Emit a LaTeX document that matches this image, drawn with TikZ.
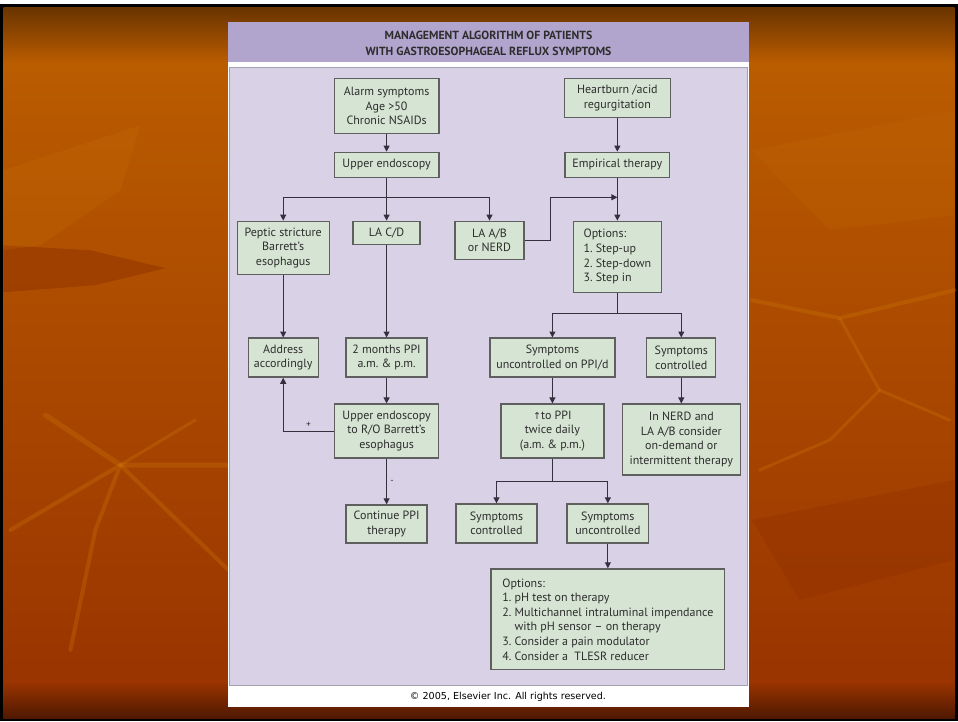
\documentclass[tikz,border=0pt]{standalone}
\usepackage{fontspec}
\setmainfont{PT Sans}
\newfontfamily\copyfont{DejaVu Sans}
\newfontfamily\symfont{DejaVu Sans}
\usepackage{tikz}
\usetikzlibrary{arrows.meta}
\usetikzlibrary{positioning}

\definecolor{slidetop}{RGB}{105,52,0}
\definecolor{slidemid}{RGB}{186,92,0}
\definecolor{slidelow}{RGB}{154,52,0}
\definecolor{slidebot}{RGB}{78,24,0}
\definecolor{crackhi}{RGB}{205,120,10}
\definecolor{crackdk}{RGB}{140,45,0}
\definecolor{hdr}{RGB}{177,165,205}
\definecolor{lav}{RGB}{217,210,230}
\definecolor{lavline}{RGB}{165,160,175}
\definecolor{boxfill}{RGB}{214,229,211}
\definecolor{boxline}{RGB}{95,95,95}
\definecolor{wire}{RGB}{52,48,62}
\definecolor{ink}{RGB}{45,45,45}

\tikzset{box/.style = {draw=boxline, line width=1.3pt, fill=boxfill, text=ink, inner sep=0pt,
    align=center, font=\fontsize{12}{14.6}\selectfont}}
\tikzset{optbox/.style = {box, align=left}}
\tikzset{arr/.style = {-{Triangle[length=6pt,width=6pt]}}}
\tikzset{crack/.style = {crackhi, opacity=0.3, line cap=round, line join=round}}

\begin{document}
\begin{tikzpicture}[x=1pt, y=-1pt, every path/.style={draw=wire, line width=1pt}]
    % slide background
    \fill[white] (0,0) rectangle (958,721);
    \fill[black] (0,4) rectangle (958,721);
    \shade[top color=slidetop, bottom color=slidemid, draw=none] (3,7) rectangle (955,62);
    \shade[top color=slidemid, bottom color=slidelow, draw=none] (3,62) rectangle (955,682);
    \shade[top color=slidelow, bottom color=slidebot, draw=none] (3,682) rectangle (955,719);

    % cracks
    \fill[crackdk, opacity=0.45, draw=none] (3,245) -- (90,250) -- (165,268) -- (95,285) -- (3,292) -- cycle;
    \fill[crackhi, opacity=0.18, draw=none] (3,170) -- (140,125) -- (120,190) -- (40,245) -- (3,250) -- cycle;
    \draw[crack, line width=5pt] (45,415) -- (120,465) -- (228,465);
    \draw[crack, line width=4pt] (10,530) -- (120,465) -- (95,530) -- (70,650);
    \draw[crack, line width=4pt] (120,465) -- (228,570);
    \draw[crack, line width=3pt] (120,465) -- (195,420);
    \fill[crackhi, opacity=0.12, draw=none] (752,150) -- (955,110) -- (955,215) -- (830,230) -- cycle;
    \draw[crack, line width=4pt] (752,300) -- (840,318) -- (955,290);
    \draw[crack, line width=3pt] (840,318) -- (880,390) -- (950,420);
    \draw[crack, line width=3pt] (760,470) -- (830,440) -- (880,390);
    \fill[crackdk, opacity=0.3, draw=none] (752,520) -- (955,480) -- (955,560) -- (800,600) -- cycle;

    % panel
    \fill[white, draw=none] (228,22) rectangle (749,707);
    \fill[hdr, draw=none] (228,22) rectangle (749,62);
    \filldraw[fill=lav, draw=lavline, line width=1.2pt] (229,67) rectangle (748,686);
    \node[text=ink, align=center, font=\fontsize{11.8}{16}\selectfont\bfseries] (title) at (488.5,43)
        {MANAGEMENT ALGORITHM OF PATIENTS\\WITH GASTROESOPHAGEAL REFLUX SYMPTOMS};
    \node[text=black, font=\copyfont\fontsize{9.6}{11}\selectfont] (copy) at (508,697)
        {© 2005, Elsevier Inc. All rights reserved.};

    % boxes
    \node[box, minimum width=105pt, minimum height=55pt] (alarm) at (386.5,105.5) {Alarm symptoms\\Age >50\\Chronic NSAIDs};
    \node[box, minimum width=105pt, minimum height=25pt] (uendo) at (386.5,164.5) {Upper endoscopy};
    \node[box, minimum width=92pt, minimum height=53pt] (peptic) at (283,247.5) {Peptic stricture\\Barrett's\\esophagus};
    \node[box, minimum width=67pt, minimum height=23pt] (lacd) at (386.5,232.5) {LA C/D};
    \node[box, minimum width=69pt, minimum height=38pt] (laab) at (489.5,240) {LA A/B\\or NERD};
    \node[box, minimum width=106pt, minimum height=39pt] (heart) at (617.5,97.5) {Heartburn /acid\\regurgitation};
    \node[box, minimum width=105pt, minimum height=25pt] (empir) at (617.5,164.5) {Empirical therapy};
    \node[optbox, minimum width=88pt, minimum height=71pt] (opts) at (617.5,256.5) {Options:\\1.\ Step-up\\2.\ Step-down\\3.\ Step in};
    \node[box, minimum width=70pt, minimum height=39pt] (address) at (283,357.5) {Address\\accordingly};
    \node[box, minimum width=81pt, minimum height=39pt] (ppitwo) at (386.5,357.5) {2 months PPI\\a.m.\ \& p.m.};
    \node[box, minimum width=104pt, minimum height=54pt] (uendorob) at (386.5,431) {Upper endoscopy\\to R/O Barrett's\\esophagus};
    \node[box, minimum width=81pt, minimum height=38pt] (contppi) at (386.5,524) {Continue PPI\\therapy};
    \node[box, minimum width=125pt, minimum height=39pt] (uncon) at (552.5,357.5) {Symptoms\\uncontrolled on PPI/d};
    \node[box, minimum width=69pt, minimum height=39pt] (ctrl) at (681.5,357.5) {Symptoms\\controlled};
    \node[box, minimum width=103pt, minimum height=54pt] (twice) at (552.5,431) {{\symfont\fontsize{9.5}{10}\selectfont ↑}to PPI\\twice daily\\(a.m.\ \& p.m.)};
    \node[box, minimum width=118pt, minimum height=71pt] (nerd) at (681.5,439.5) {In NERD and\\LA A/B consider\\on-demand or\\intermittent therapy};
    \node[box, minimum width=81pt, minimum height=39pt] (ctrlb) at (496.5,523.5) {Symptoms\\controlled};
    \node[box, minimum width=82pt, minimum height=39pt] (unconb) at (608,523.5) {Symptoms\\uncontrolled};
    \node[optbox, minimum width=234pt, minimum height=101pt] (optsb) at (608,619.5)
        {Options:\\1.\ pH test on therapy\\2.\ Multichannel intraluminal impendance\\\hphantom{2.\ }with pH sensor -- on therapy\\3.\ Consider a pain modulator\\4.\ Consider a~~TLESR reducer};

    % branch points
    \coordinate (lbr) at (386.5,197);
    \coordinate (rbr) at (617.5,197);
    \coordinate (mbr) at (617.5,313);
    \coordinate (lowbr) at (552.5,482);

    % connectors
    \draw[arr] (alarm) -- (uendo);
    \draw (uendo) -- (lbr);
    \draw[arr] (lbr) -| (peptic);
    \draw[arr] (lbr) -- (lacd);
    \draw[arr] (lbr) -| (laab);
    \draw[arr] (heart) -- (empir);
    \draw[arr] (empir) -- (opts);
    \draw[arr] (laab.east) -- ++(26,0) |- (rbr);
    \draw (opts) -- (mbr);
    \draw[arr] (mbr) -| (uncon);
    \draw[arr] (mbr) -| (ctrl);
    \draw[arr] (peptic) -- (address);
    \draw[arr] (lacd) -- (ppitwo);
    \draw[arr] (ppitwo) -- (uendorob);
    \draw[arr] (uendorob.west) -| (address.south) node[pos=0.25, above, text=ink, font=\fontsize{9.5}{10}\selectfont] (plus) {+};
    \draw[arr] (uendorob) -- (contppi) node[midway, right, text=ink, font=\fontsize{9.5}{10}\selectfont] (minus) {-};
    \draw[arr] (uncon) -- (twice);
    \draw[arr] (ctrl) -- (nerd);
    \draw (twice) -- (lowbr);
    \draw[arr] (lowbr) -| (ctrlb);
    \draw[arr] (lowbr) -| (unconb);
    \draw[arr] (unconb) -- (optsb);
\end{tikzpicture}
\end{document}
